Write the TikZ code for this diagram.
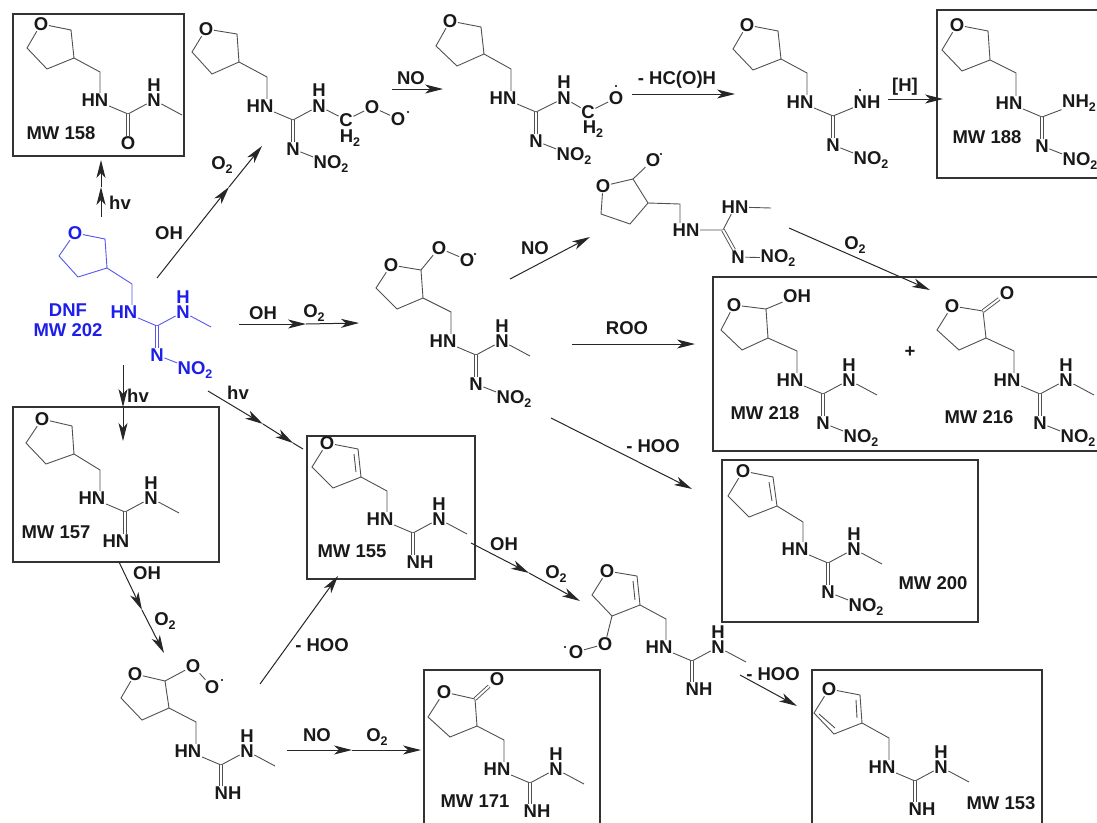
\documentclass[tikz,border=0pt]{standalone}
\usepackage{fontspec}
\setmainfont{Liberation Sans}
\usepackage{xcolor}
\usetikzlibrary{arrows.meta}
\definecolor{dnfblue}{RGB}{30,30,235}
\definecolor{bondgray}{RGB}{80,80,80}
\newcommand{\subnum}[1]{\raisebox{-3.5pt}{\fontsize{12.5}{12.5}\selectfont #1}}
% ring: name, O, C2, C3, C4, C5
\newcommand{\ringat}[6]{%
	\node[atom] (#1O) at (#2) {O};
	\coordinate (#1a) at (#3);
	\coordinate (#1b) at (#4);
	\coordinate (#1c) at (#5);
	\coordinate (#1d) at (#6);
	\draw[bond] (#1O) -- (#1a) -- (#1b) -- (#1c) -- (#1d) -- (#1O);}
% ring to side chain: ring, chain, CH2 position
\newcommand{\linkat}[3]{%
	\coordinate (#1ch) at (#3);
	\draw[bond] (#1b) -- (#1ch) -- (#2HN.north -| #1ch);}
% HN and central carbon
\newcommand{\guancore}[2]{%
	\begin{scope}[shift={(#2)}]
		\node[atom] (#1HN) at (0,0) {HN};
		\coordinate (#1C) at (33,14);
	\end{scope}
	\draw[bond] (#1HN) -- (#1C);}
% N(H)-CH3 arm
\newcommand{\guanarm}[1]{%
	\node[atom] (#1N) at ([shift={(26,-14)}]#1C) {N};
	\node[atom] (#1H) at ([shift={(26,-29)}]#1C) {H};
	\coordinate (#1Me) at ([shift={(54,1)}]#1C);
	\draw[bond] (#1C) -- (#1N) -- (#1Me);}
% =N-NO2 arm
\newcommand{\guannitro}[1]{%
	\node[atom] (#1Nb) at ([shift={(0,29)}]#1C) {N};
	\node[atom] (#1NO) at ([shift={(38,44)}]#1C) {NO\subnum{2}};
	\draw[dbl] (#1C) -- (#1Nb);
	\draw[bond] (#1Nb) -- (#1NO);}
% =NH arm
\newcommand{\guanimine}[3]{%
	\node[atom] (#1Nb) at ([shift={(#3)}]#1C) {#2};
	\draw[dbl] (#1C) -- (#1C |- #1Nb.north);}
\begin{document}
\begin{tikzpicture}[
		x=1pt, y=-1pt,
		atom/.style={font=\fontsize{18.5}{18.5}\selectfont\bfseries, inner sep=0.5pt, text=black!90},
		bond/.style={draw=bondgray, line width=0.9pt},
		dbl/.style={bond, double, double distance=2pt},
		dot/.style={fill=black},
		box/.style={draw=black!80, line width=1.7pt},
		arrow/.style={-{Stealth[length=18pt,width=9pt,inset=5pt]}, line width=1pt, draw=black!85},
	]
		\useasboundingbox (0,0) rectangle (1097,822);

		% product boxes
		\draw[box] (13,14) rectangle (184,156);
		\draw[box] (937,10) rectangle (1110,178);
		\draw[box] (13,407) rectangle (219,562);
		\draw[box] (307,436) rectangle (475,579);
		\draw[box] (713,277) rectangle (1110,451);
		\draw[box] (722,460) rectangle (978,622);
		\draw[box] (424,670) rectangle (600,835);
		\draw[box] (812,670) rectangle (1042,835);

		% DNF
		\begin{scope}[bond/.append style={draw=dnfblue!75}, atom/.append style={text=dnfblue}]
			\ringat{dr}{75,233}{105,239}{107,268}{78,277}{59,256}
			\guancore{dg}{124,312}
			\guanarm{dg}
			\guannitro{dg}
			\linkat{dr}{dg}{132,284}
			\node[atom] (dnfname) at (68,310) {DNF};
			\node[atom] (dnfmw) at (68,330) {MW 202};
		\end{scope}

		% MW 158
		\ringat{ar}{41,24}{71,30}{74,58}{47,69}{27,48}
		\guancore{ag}{95,100}
		\guanarm{ag}
		\node[atom] (agO) at ([shift={(0,29)}]agC) {O};
		\draw[dbl] (agC) -- (agO);
		\linkat{ar}{ag}{100,72}
		\node[atom] (amw) at (61,133) {MW 158};

		% peroxy radical, top
		\ringat{br}{206,29}{237,34}{239,62}{212,74}{192,52}
		\guancore{bg}{260,106}
		\guannitro{bg}
		\linkat{br}{bg}{267,77}
		\node[atom] (bN) at (319,106) {N};
		\node[atom] (bH) at (319,90) {H};
		\node[atom] (bCt) at (346,120) {C};
		\node[atom] (bCh) at (350,138) {H\subnum{2}};
		\node[atom] (bO) at (372,107) {O};
		\node[atom] (bOr) at (398,119) {O};
		\draw[bond] (bgC) -- (bN) -- (bCt) -- (bO) -- (bOr);
		\fill[dot] (408,112) circle (1.2pt);

		% alkoxy radical, top
		\ringat{cr}{450,21}{481,27}{484,54}{457,66}{436,46}
		\guancore{cg}{503,98}
		\guannitro{cg}
		\linkat{cr}{cg}{511,69}
		\node[atom] (cN) at (564,98) {N};
		\node[atom] (cH) at (564,82) {H};
		\node[atom] (cCt) at (588,112) {C};
		\node[atom] (cCh) at (593,129) {H\subnum{2}};
		\node[atom] (cO) at (616,98) {O};
		\draw[bond] (cgC) -- (cN) -- (cCt) -- (cO);
		\fill[dot] (616,86) circle (1.2pt);

		% aminyl radical
		\ringat{er}{747,25}{778,31}{781,59}{753,70}{733,49}
		\guancore{eg}{800,102}
		\guannitro{eg}
		\linkat{er}{eg}{807,73}
		\node[atom] (eN) at (867,102) {NH};
		\draw[bond] (egC) -- (eN);
		\fill[dot] (860,90) circle (1.2pt);

		% MW 188
		\ringat{fr}{957,25}{988,31}{990,60}{962,71}{942,50}
		\guancore{fg}{1009,103}
		\guannitro{fg}
		\linkat{fr}{fg}{1016,73}
		\node[atom] (fN) at (1079,103) {NH\subnum{2}};
		\draw[bond] (fgC) -- (fN);
		\node[atom] (fmw) at (987,137) {MW 188};

		% MW 157
		\ringat{gr}{42,419}{72,426}{74,454}{46,464}{26,443}
		\guancore{gg}{92,498}
		\guanarm{gg}
		\guanimine{gg}{HN}{-9,29}
		\linkat{gr}{gg}{100,470}
		\node[atom] (gmw) at (56,532) {MW 157};

		% MW 155
		\ringat{hr}{327,443}{358,449}{361,477}{333,488}{312,467}
		\draw[bond] ([shift={(-4,5)}]hra) -- ([shift={(-5,-5)}]hrb);
		\guancore{hg}{380,519}
		\guanarm{hg}
		\guanimine{hg}{NH}{7,29}
		\linkat{hr}{hg}{387,491}
		\node[atom] (hmw) at (352,551) {MW 155};

		% peroxy radical, middle
		\ringat{ir}{391,265}{421,270}{423,298}{397,309}{376,288}
		\guancore{ig}{443,341}
		\guanarm{ig}
		\guannitro{ig}
		\linkat{ir}{ig}{451,312}
		\node[atom] (iO) at (439,248) {O};
		\node[atom] (iOr) at (467,260) {O};
		\draw[bond] (ira) -- (iO) -- (iOr);
		\fill[dot] (475,254) circle (1.2pt);

		% alkoxy radical, middle
		\ringat{jr}{603,186}{633,179}{648,203}{630,224}{601,214}
		\node[atom] (jHN) at (686,230) {HN};
		\linkat{jr}{j}{680,204}
		\node[atom] (jO) at (653,160) {O};
		\draw[bond] (jra) -- (jO);
		\fill[dot] (661,154) circle (1.2pt);
		\coordinate (jC) at (723,230);
		\coordinate (jMe) at (771,208);
		\node[atom] (jNu) at (735,207) {HN};
		\node[atom] (jNb) at (738,257) {N};
		\node[atom] (jNO) at (778,258) {NO\subnum{2}};
		\draw[bond] (jHN) -- (jC) -- (jNu) -- (jMe);
		\draw[dbl] (jC) -- (jNb);
		\draw[bond] (jNb) -- (jNO);

		% MW 218
		\ringat{kr}{734,305}{766,309}{768,338}{742,350}{721,330}
		\guancore{kg}{790,380}
		\guanarm{kg}
		\guannitro{kg}
		\linkat{kr}{kg}{797,351}
		\node[atom] (kOH) at (797,296) {OH};
		\draw[bond] (kra) -- (kOH);
		\node[atom] (kmw) at (765,413) {MW 218};
		\node[atom] (plus) at (910,352) {+};

		% MW 216
		\ringat{lr}{952,306}{983,311}{986,338}{959,350}{937,330}
		\guancore{lg}{1007,380}
		\guanarm{lg}
		\guannitro{lg}
		\linkat{lr}{lg}{1014,351}
		\node[atom] (lOd) at (1007,293) {O};
		\draw[dbl] (lra) -- (lOd);
		\node[atom] (lmw) at (979,417) {MW 216};

		% MW 200
		\ringat{mr}{743,471}{773,477}{777,506}{749,517}{728,496}
		\draw[bond] ([shift={(-4,5)}]mra) -- ([shift={(-5,-5)}]mrb);
		\guancore{mg}{795,549}
		\guanarm{mg}
		\guannitro{mg}
		\linkat{mr}{mg}{803,522}
		\node[atom] (mmw) at (933,583) {MW 200};

		% peroxy radical, bottom left
		\ringat{nr}{135,674}{165,681}{169,708}{142,720}{121,698}
		\guancore{ng}{188,751}
		\guanarm{ng}
		\guanimine{ng}{NH}{7,28}
		\linkat{nr}{ng}{196,722}
		\node[atom] (nO) at (193,666) {O};
		\node[atom] (nOr) at (212,687) {O};
		\draw[bond] (nra) -- (nO) -- (nOr);
		\fill[dot] (222,680) circle (1.2pt);

		% MW 171
		\ringat{qr}{444,692}{475,699}{477,726}{450,737}{428,717}
		\guancore{qg}{497,769}
		\guanarm{qg}
		\guanimine{qg}{NH}{7,28}
		\linkat{qr}{qg}{504,740}
		\node[atom] (qOd) at (497,679) {O};
		\draw[dbl] (qra) -- (qOd);
		\node[atom] (qmw) at (475,801) {MW 171};

		% peroxy radical, lower middle
		\ringat{sr}{607,571}{637,576}{640,605}{612,616}{592,595}
		\draw[bond] ([shift={(-4,5)}]sra) -- ([shift={(-5,-5)}]srb);
		\guancore{sg}{659,647}
		\guanarm{sg}
		\guanimine{sg}{NH}{7,28}
		\linkat{sr}{sg}{666,619}
		\node[atom] (sO) at (605,644) {O};
		\node[atom] (sOr) at (576,652) {O};
		\draw[bond] (src) -- (sO) -- (sOr);
		\fill[dot] (565,647) circle (1.2pt);

		% MW 153
		\ringat{tr}{829,689}{860,695}{862,723}{834,734}{814,713}
		\draw[bond] ([shift={(-4,5)}]tra) -- ([shift={(-5,-5)}]trb);
		\draw[bond] ([shift={(1,-6)}]trc) -- ([shift={(5,1)}]trd);
		\guancore{tg}{882,767}
		\guanarm{tg}
		\guanimine{tg}{NH}{7,28}
		\linkat{tr}{tg}{889,738}
		\node[atom] (tmw) at (1001,803) {MW 153};

		% arrow ends
		\coordinate (u1) at (101,217);
		\coordinate (u2) at (101,187);
		\coordinate (u3) at (101,160);
		\coordinate (v1) at (157,278);
		\coordinate (v2) at (229,187);
		\coordinate (v3) at (262,146);
		\coordinate (w1) at (239,324);
		\coordinate (w2) at (306,324);
		\coordinate (w3) at (359,323);
		\coordinate (x1) at (123,365);
		\coordinate (x2) at (123,407);
		\coordinate (x3) at (123,441);
		\coordinate (y1) at (208,391);
		\coordinate (y2) at (263,424);
		\coordinate (y3) at (293,443);
		\coordinate (y4) at (303,449);
		\coordinate (z1) at (119,562);
		\coordinate (z2) at (142,610);
		\coordinate (z3) at (164,653);
		\coordinate (ha1) at (260,684);
		\coordinate (ha2) at (338,576);
		\coordinate (no1) at (287,750);
		\coordinate (no2) at (352,750);
		\coordinate (no3) at (421,750);
		\coordinate (oh1) at (471,543);
		\coordinate (oh2) at (529,573);
		\coordinate (oh3) at (580,601);
		\coordinate (hb1) at (740,675);
		\coordinate (hb2) at (797,706);
		\coordinate (nt1) at (392,89);
		\coordinate (nt2) at (443,89);
		\coordinate (hc1) at (632,94);
		\coordinate (hc2) at (735,94);
		\coordinate (hh1) at (888,99);
		\coordinate (hh2) at (943,99);
		\coordinate (nd1) at (510,279);
		\coordinate (nd2) at (590,237);
		\coordinate (od1) at (789,228);
		\coordinate (od2) at (930,290);
		\coordinate (ro1) at (572,344);
		\coordinate (ro2) at (695,344);
		\coordinate (hd1) at (551,418);
		\coordinate (hd2) at (692,489);

		% arrows
		\draw[arrow] (u1) -- (u2);
		\draw[arrow] (u2) -- (u3);
		\draw[arrow] (v1) -- (v2);
		\draw[arrow] (v2) -- (v3);
		\draw[arrow] (w1) -- (w2);
		\draw[arrow] (w2) -- (w3);
		\draw[arrow] (x1) -- (x2);
		\draw[arrow] (x2) -- (x3);
		\draw[arrow] (y1) -- (y2);
		\draw[arrow] (y2) -- (y3);
		\draw[arrow, -] (y3) -- (y4);
		\draw[arrow] (z1) -- (z2);
		\draw[arrow] (z2) -- (z3);
		\draw[arrow] (ha1) -- (ha2);
		\draw[arrow] (no1) -- (no2);
		\draw[arrow] (no2) -- (no3);
		\draw[arrow] (oh1) -- (oh2);
		\draw[arrow] (oh2) -- (oh3);
		\draw[arrow] (hb1) -- (hb2);
		\draw[arrow] (nt1) -- (nt2);
		\draw[arrow] (hc1) -- (hc2);
		\draw[arrow] (hh1) -- (hh2);
		\draw[arrow] (nd1) -- (nd2);
		\draw[arrow] (od1) -- (od2);
		\draw[arrow] (ro1) -- (ro2);
		\draw[arrow] (hd1) -- (hd2);

		% arrow labels
		\node[atom] (lhv1) at (120,203) {hv};
		\node[atom] (lhv2) at (138,396) {hv};
		\node[atom] (lhv3) at (238,393) {hv};
		\node[atom] (loh1) at (169,233) {OH};
		\node[atom] (loo1) at (222,165) {O\subnum{2}};
		\node[atom] (loh2) at (263,313) {OH};
		\node[atom] (loo2) at (314,313) {O\subnum{2}};
		\node[atom] (loh3) at (147,573) {OH};
		\node[atom] (loo3) at (165,621) {O\subnum{2}};
		\node[atom] (lhoo1) at (322,645) {- HOO};
		\node[atom] (lno1) at (317,735) {NO};
		\node[atom] (loo4) at (377,737) {O\subnum{2}};
		\node[atom] (loh4) at (504,544) {OH};
		\node[atom] (loo5) at (556,574) {O\subnum{2}};
		\node[atom] (lhoo2) at (773,674) {- HOO};
		\node[atom] (lno2) at (411,78) {NO};
		\node[atom] (lhc) at (677,80) {- HC(O)H};
		\node[atom] (lhh) at (905,87) {[H]};
		\node[atom] (lno3) at (535,248) {NO};
		\node[atom] (loo6) at (855,245) {O\subnum{2}};
		\node[atom] (lroo) at (627,328) {ROO};
		\node[atom] (lhoo3) at (653,446) {- HOO};
	\end{tikzpicture}
\end{document}
